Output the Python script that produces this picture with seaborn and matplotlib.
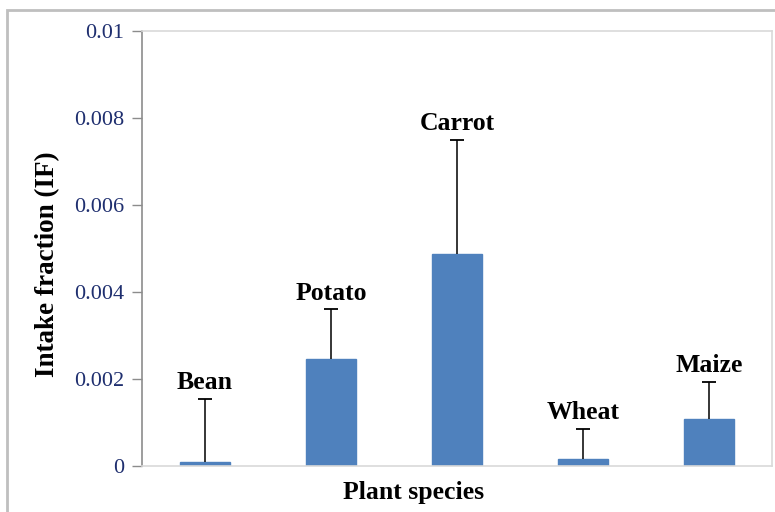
import matplotlib
matplotlib.use("Agg")
import matplotlib.pyplot as plt
import seaborn as sns
import numpy as np
import pandas as pd
from matplotlib.patches import Rectangle

species = ["Bean", "Potato", "Carrot", "Wheat", "Maize"]
intake_fraction = [0.0001, 0.00246, 0.00487, 0.00016, 0.00107]
upper_error = [0.00144, 0.00114, 0.00263, 0.00070, 0.00087]
yticks = [0, 0.002, 0.004, 0.006, 0.008, 0.01]
ytick_labels = ["0", "0.002", "0.004", "0.006", "0.008", "0.01"]

sns.set_theme(style="white")
plt.rcParams["font.family"] = ["Liberation Serif", "DejaVu Serif"]

df = pd.DataFrame({"species": species, "IF": intake_fraction})

fig = plt.figure(figsize=(7.75, 5.12), dpi=100)
ax = fig.add_axes([142 / 775, (512 - 466) / 512, (772 - 142) / 775, (466 - 31) / 512])

sns.barplot(data=df, x="species", y="IF", color="#4F81BD", saturation=1,
            width=0.4, ax=ax, errorbar=None)
for p in ax.patches:
    p.set_edgecolor("#4F81BD")

xpos = np.arange(len(species))
eb = ax.errorbar(xpos, intake_fraction, yerr=[np.zeros(len(species)), upper_error],
                 fmt="none", ecolor="black", elinewidth=1.1, capsize=5, capthick=1.3)
caplines = eb[1]
if len(caplines) == 2:
    caplines[0].set_visible(False)

for i, (v, e) in enumerate(zip(intake_fraction, upper_error)):
    ax.annotate(species[i], xy=(i, v + e), xytext=(0, 7), textcoords="offset points",
                ha="center", va="baseline", fontsize=18.5, fontweight="bold",
                color="black")

ax.set_xlim(-0.5, len(species) - 0.5)
ax.set_ylim(0, 0.01)
ax.set_yticks(yticks)
ax.set_yticklabels(ytick_labels, fontsize=16, color="#1F2F6F")
ax.set_xticks([])
ax.set_xlabel("")
ax.set_ylabel("")
ax.tick_params(axis="y", which="both", left=True, length=7, width=1, color="#8C8C8C", pad=6)

ax.spines["left"].set_color("#8C8C8C")
ax.spines["left"].set_linewidth(1.2)
for s in ["top", "right", "bottom"]:
    ax.spines[s].set_color("#D9D9D9")
    ax.spines[s].set_linewidth(1.2)

fig.text(48 / 775, 1 - 264 / 512, "Intake fraction (IF)", rotation=90, ha="center", va="center",
         fontsize=19.5, fontweight="bold", color="black")
fig.text(414 / 775, 1 - 492 / 512, "Plant species", ha="center", va="center",
         fontsize=18.5, fontweight="bold", color="black")

fig.patches.append(Rectangle((7 / 775, -0.1), 1.2, 1 - 10 / 512 + 0.1, transform=fig.transFigure,
                             fill=False, edgecolor="#BFBFBF", linewidth=2))

fig.savefig("out.png", dpi=100)
